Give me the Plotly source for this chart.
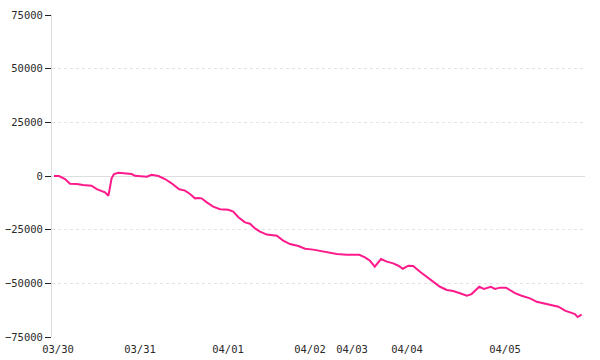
import plotly.graph_objects as go

# time index (sample units) and cumulative value
t = [0.5, 1.75, 3.25, 4.5, 6.2, 7.75, 9.9, 11.2, 13.25, 14.1, 14.9, 15.5, 16.6, 19.9,
     20.75, 22.75, 23.7, 24.9, 26.6, 28.25, 29.9, 31.8, 33.25, 34.5, 35.75, 36.6, 37.4,
     38.7, 40.3, 42.0, 44.1, 45.3, 46.6, 48.25, 49.5, 50.75, 52.0, 53.7, 56.2, 57.8,
     59.5, 61.6, 63.25, 65.3, 67.0, 69.5, 71.2, 73.7, 76.8, 78.25, 79.5, 80.7, 82.25,
     83.7, 85.3, 86.6, 87.7, 89.1, 90.3, 92.0, 93.7, 95.3, 97.0, 98.7, 100.3, 102.0,
     103.7, 104.9, 106.8, 108.0, 109.7, 110.75, 112.0, 113.5, 114.5, 115.75, 117.4,
     119.5, 121.2, 122.8, 124.9, 126.6, 128.25, 129.5, 130.75, 131.4, 132.4]
values = [0, 0, -1400, -3600, -3700, -4200, -4500, -6100, -7600, -9200, -1100, 900, 1500, 900,
          100, 0, -300, 600, 0, -1400, -3400, -6200, -6800, -8400, -10400, -10200, -10400,
          -12300, -14300, -15500, -15700, -16600, -19200, -21600, -22200, -24400, -25900,
          -27300, -27800, -30100, -31700, -32600, -33900, -34300, -34900, -35700, -36300,
          -36700, -36700, -37900, -39500, -42200, -38700, -39900, -40700, -41800, -43200,
          -41800, -41900, -44600, -46900, -49200, -51600, -53100, -53600, -54600, -55800,
          -55000, -51600, -52600, -51600, -52600, -52000, -52000, -53100, -54600, -55800,
          -57000, -58600, -59300, -60400, -60900, -62700, -63500, -64300, -65700, -64600]

day_pos = [1.5, 22.0, 44.0, 64.5, 75.0, 88.75, 113.25]
day_labels = ["03/30", "03/31", "04/01", "04/02", "04/03", "04/04", "04/05"]
y_ticks = [75000, 50000, 25000, 0, -25000, -50000, -75000]

fig = go.Figure()
fig.add_trace(go.Scatter(x=t, y=values, mode="lines",
                         line=dict(color="#ff1a8c", width=2), hoverinfo="skip"))

font = dict(family="DejaVu Sans Mono", size=10.5, color="#2a2a2a")
fig.update_layout(
    width=600, height=360,
    margin=dict(l=52, r=15, t=15, b=23, autoexpand=False),
    paper_bgcolor="white", plot_bgcolor="white",
    showlegend=False,
    font=font,
)
fig.update_xaxes(range=[0, 133.25], tickmode="array", tickvals=day_pos, ticktext=day_labels,
                 showgrid=False, zeroline=False, showline=False, ticks="",
                 ticklabelstandoff=4,
                 tickfont=font, fixedrange=True, automargin=False)
fig.update_yaxes(range=[-75000, 75000], tickmode="array", tickvals=y_ticks,
                 ticktext=[str(v).replace("-", "\u2212") for v in y_ticks],
                 showgrid=True, gridcolor="#e3e3e3", griddash="dot", gridwidth=1,
                 zeroline=True, zerolinecolor="#dddddd", zerolinewidth=1,
                 showline=True, linecolor="#dddddd", linewidth=1,
                 ticks="outside", ticklen=6, tickcolor="#222222", tickwidth=1,
                 tickfont=font, fixedrange=True, automargin=False)

fig.write_html("out.html")
